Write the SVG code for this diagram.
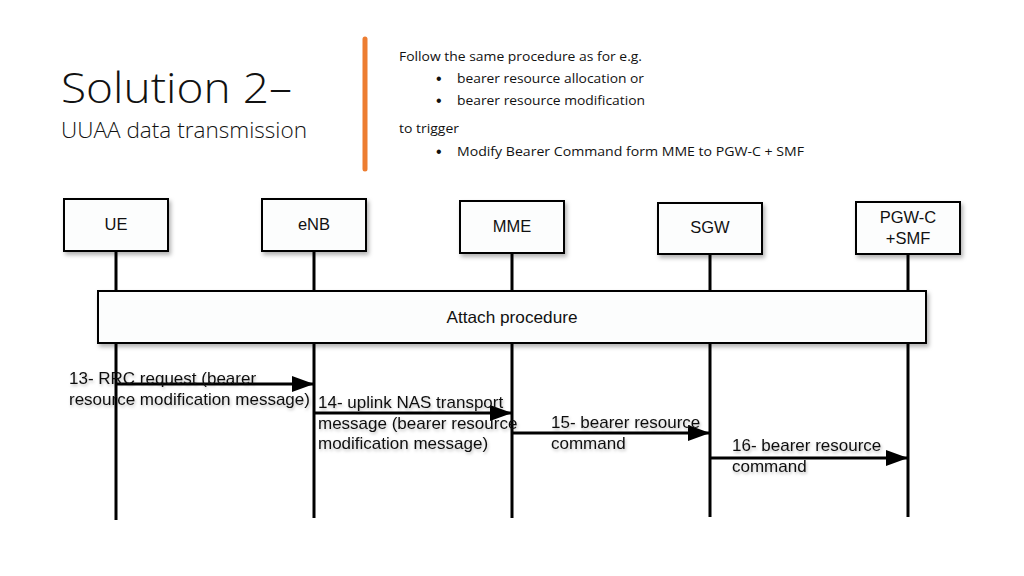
<svg xmlns="http://www.w3.org/2000/svg" width="1024" height="576" viewBox="0 0 1024 576">
<style>
.title{font-family:"Open Sans","Liberation Sans",sans-serif;font-weight:300;fill:#111}
.note{font-family:"Open Sans","Liberation Sans",sans-serif;font-size:13px;fill:#111}
.bul{font-family:"Liberation Sans",Arial,sans-serif;font-size:16px;fill:#111}
.box{fill:#fcfdfd;stroke:#000;stroke-width:2}
.lbl{font-family:"Liberation Sans",Arial,sans-serif;font-size:16.5px;fill:#111}
.life{stroke:#000;stroke-width:3;fill:none}
.msg{stroke:#000;stroke-width:3;fill:none;marker-end:url(#ah)}
.ml{font-family:"Liberation Sans",Arial,sans-serif;font-size:17px;fill:#111}
</style>
<defs>
<filter id="sh" x="-10%" y="-10%" width="130%" height="140%">
<feDropShadow dx="2" dy="3" stdDeviation="2" flood-color="#000" flood-opacity="0.3"/>
</filter>
<filter id="tsh" x="-5%" y="-20%" width="115%" height="160%">
<feDropShadow dx="1" dy="2" stdDeviation="1.5" flood-color="#000" flood-opacity="0.25"/>
</filter>
<marker id="ah" markerWidth="22" markerHeight="16" refX="22" refY="8" orient="auto" markerUnits="userSpaceOnUse">
<path d="M0,0 L22,8 L0,16 Z" fill="#000"/>
</marker>
</defs>
<rect width="1024" height="576" fill="#fff"/>

<g id="title">
<text class="title" x="61" y="103" font-size="42" textLength="231" lengthAdjust="spacingAndGlyphs">Solution 2–</text>
<text class="title" x="61" y="138" font-size="22" textLength="246" lengthAdjust="spacingAndGlyphs">UUAA data transmission</text>
</g>
<line x1="365" y1="39" x2="365" y2="169" stroke="#ED7D31" stroke-width="5" stroke-linecap="round"/>

<g id="notes">
<text class="note" x="399" y="61" textLength="243" lengthAdjust="spacingAndGlyphs">Follow the same procedure as for e.g.</text>
<text class="bul" x="436" y="84">•</text>
<text class="note" x="457" y="83" textLength="187" lengthAdjust="spacingAndGlyphs">bearer resource allocation or</text>
<text class="bul" x="436" y="106">•</text>
<text class="note" x="457" y="105" textLength="188" lengthAdjust="spacingAndGlyphs">bearer resource modification</text>
<text class="note" x="399" y="133" textLength="60" lengthAdjust="spacingAndGlyphs">to trigger</text>
<text class="bul" x="436" y="157">•</text>
<text class="note" x="457" y="156" textLength="347" lengthAdjust="spacingAndGlyphs">Modify Bearer Command form MME to PGW-C + SMF</text>
</g>

<g id="lifelines">
<line class="life" x1="116" y1="251" x2="116" y2="520"/>
<line class="life" x1="314" y1="251" x2="314" y2="518"/>
<line class="life" x1="512" y1="253" x2="512" y2="518"/>
<line class="life" x1="710" y1="254" x2="710" y2="517"/>
<line class="life" x1="908" y1="254" x2="908" y2="517"/>
</g>

<g id="UE"><rect class="box" filter="url(#sh)" x="64" y="199" width="104" height="52"/><text class="lbl" x="116" y="230" text-anchor="middle">UE</text></g>
<g id="eNB"><rect class="box" filter="url(#sh)" x="262" y="199" width="104" height="52"/><text class="lbl" x="314" y="230" text-anchor="middle">eNB</text></g>
<g id="MME"><rect class="box" filter="url(#sh)" x="460" y="201" width="104" height="52"/><text class="lbl" x="512" y="232" text-anchor="middle">MME</text></g>
<g id="SGW"><rect class="box" filter="url(#sh)" x="658" y="203" width="104" height="51"/><text class="lbl" x="710" y="233" text-anchor="middle">SGW</text></g>
<g id="PGWC"><rect class="box" filter="url(#sh)" x="856" y="202" width="104" height="52"/><text class="lbl" x="908" y="223" text-anchor="middle">PGW-C</text><text class="lbl" x="908" y="244" text-anchor="middle">+SMF</text></g>

<g id="attach"><rect class="box" filter="url(#sh)" x="98" y="291" width="828" height="52"/><text class="lbl" x="512" y="323" text-anchor="middle" textLength="131" lengthAdjust="spacingAndGlyphs">Attach procedure</text></g>

<g id="connectors">
<line class="msg" x1="116" y1="384" x2="314" y2="384"/>
<line class="msg" x1="314" y1="413" x2="512" y2="413"/>
<line class="msg" x1="512" y1="433" x2="710" y2="433"/>
<line class="msg" x1="710" y1="458" x2="908" y2="458"/>
</g>

<g id="labels" filter="url(#tsh)">
<text class="ml" x="69" y="384">13- RRC request (bearer</text>
<text class="ml" x="69" y="405">resource modification message)</text>
<text class="ml" x="318" y="408">14- uplink NAS transport</text>
<text class="ml" x="318" y="429">message (bearer resource</text>
<text class="ml" x="318" y="449">modification message)</text>
<text class="ml" x="551" y="428">15- bearer resource</text>
<text class="ml" x="551" y="449">command</text>
<text class="ml" x="732" y="451">16- bearer resource</text>
<text class="ml" x="732" y="472">command</text>
</g>
</svg>
